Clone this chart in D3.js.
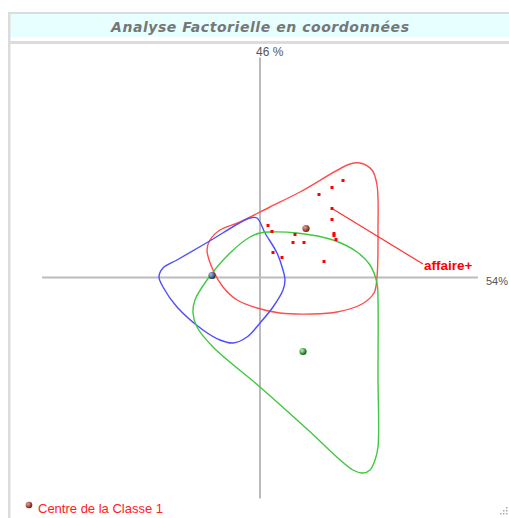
<!DOCTYPE html>
<html>
<head>
<meta charset="utf-8">
<script src="https://cdn.jsdelivr.net/npm/d3@7"></script>
<style>
  body { margin: 0; background: #fff; }
  svg { display: block; }
</style>
</head>
<body>
<div id="chart"></div>
<script>
// axis inertia labels
var axisLabelX = "54%";
var axisLabelY = "46 %";
var title = "Analyse Factorielle en coordonnées";
var legendLabel = "Centre de la Classe 1";
var pointLabel = "affaire+";

// individuals of class 1 (factor coordinates)
var pointsX = [0.83, 0.72, 0.59, 0.72, 0.72, 0.74, 0.74, 0.76, 0.08, 0.12, 0.35, 0.33, 0.44, 0.13, 0.22, 0.64];
var pointsY = [0.97, 0.90, 0.83, 0.69, 0.58, 0.44, 0.42, 0.38, 0.52, 0.46, 0.43, 0.35, 0.35, 0.25, 0.20, 0.16];

// labelled point (index into points) and where its label sits
var labelIndex = 3;
var labelPos = [1.63, 0.135];

// class centres
var centreNames = ["Classe 1", "Classe 2", "Classe 3"];
var centreX = [0.46, -0.48, 0.43];
var centreY = [0.49, 0.02, -0.74];

// class envelopes
var envRedX = [1.00, 1.12, 1.17, 1.18, 1.17, 1.14, 1.02, 0.77, 0.53, 0.20, -0.03, -0.23, -0.37, -0.47, -0.53, -0.50, -0.40, -0.20, 0.10, 0.40, 0.90];
var envRedY = [1.145, 1.075, 0.925, 0.475, 0.005, -0.155, -0.265, -0.345, -0.365, -0.355, -0.305, -0.225, -0.095, 0.075, 0.275, 0.375, 0.475, 0.555, 0.705, 0.855, 1.135];

var envBlueX = [-0.03, 0.05, 0.17, 0.23, 0.25, 0.23, 0.13, 0.00, -0.13, -0.27, -0.40, -0.57, -0.83, -0.97, -1.01, -0.97, -0.83, -0.52, -0.10];
var envBlueY = [0.595, 0.445, 0.245, 0.075, -0.025, -0.125, -0.295, -0.455, -0.595, -0.655, -0.625, -0.525, -0.295, -0.095, 0.005, 0.095, 0.175, 0.355, 0.595];

var envGreenX = [0.00, 0.10, 0.37, 0.73, 0.97, 1.10, 1.17, 1.18, 1.18, 1.18, 1.15, 1.10, 1.03, 0.93, 0.47, 0.00, -0.47, -0.63, -0.67, -0.65, -0.53, -0.30, -0.10];
var envGreenY = [0.445, 0.455, 0.445, 0.375, 0.255, 0.125, -0.055, -0.225, -0.975, -1.695, -1.825, -1.925, -1.955, -1.925, -1.515, -1.095, -0.695, -0.495, -0.355, -0.225, -0.025, 0.245, 0.405];

var envelopes = [
    { color: "#ff4d4d", xs: envRedX, ys: envRedY },
    { color: "#4d4dff", xs: envBlueX, ys: envBlueY },
    { color: "#40c840", xs: envGreenX, ys: envGreenY }
];
var centreColors = [["#f0a090", "#702010"], ["#a8c0f0", "#1c2c4c"], ["#b0ffb0", "#0c600c"]];

var width = 509, height = 518;

var svg = d3.select("#chart").append("svg")
    .attr("width", width)
    .attr("height", height);

// frame
svg.append("rect").attr("x", 8).attr("y", 12).attr("width", width - 8).attr("height", 2).attr("fill", "#dcdcdc");
svg.append("rect").attr("x", 10).attr("y", 14).attr("width", width - 10).attr("height", 23).attr("fill", "#e8ffff");
svg.append("rect").attr("x", 8).attr("y", 41).attr("width", width - 8).attr("height", 3).attr("fill", "#dcdcdc");
svg.append("rect").attr("x", 8).attr("y", 12).attr("width", 2.5).attr("height", height - 12).attr("fill", "#dcdcdc");

svg.append("text")
    .attr("x", 260)
    .attr("y", 32)
    .attr("text-anchor", "middle")
    .attr("font-family", "DejaVu Sans")
    .attr("font-weight", "bold")
    .attr("font-style", "italic")
    .attr("font-size", "14px")
    .attr("fill", "#777")
    .attr("textLength", 298)
    .text(title);

// scales
var x = d3.scaleLinear().domain([-2.18, 2.18]).range([42, 478]);
var y = d3.scaleLinear().domain([-2.195, 2.205]).range([497, 57]);

// axes through origin
var g = svg.append("g");
g.append("line")
    .attr("x1", x(-2.18)).attr("x2", x(2.18))
    .attr("y1", y(0)).attr("y2", y(0))
    .attr("stroke", "#bbb").attr("stroke-width", 2);
g.append("line")
    .attr("x1", x(0)).attr("x2", x(0))
    .attr("y1", y(2.2)).attr("y2", y(-2.21))
    .attr("stroke", "#bbb").attr("stroke-width", 2);

g.append("text")
    .attr("x", x(0) - 4).attr("y", y(2.2) - 2)
    .attr("font-family", "Liberation Sans, Arial, sans-serif")
    .attr("font-size", "12px").attr("fill", "#555")
    .text(axisLabelY);
g.append("text")
    .attr("x", x(2.18) + 8).attr("y", y(0) + 7)
    .attr("font-family", "Liberation Sans, Arial, sans-serif")
    .attr("font-size", "11px").attr("fill", "#555")
    .text(axisLabelX);

// envelopes
var line = d3.line()
    .x(function(d){ return x(d[0]); })
    .y(function(d){ return y(d[1]); })
    .curve(d3.curveCatmullRomClosed.alpha(0.5));

envelopes.forEach(function(e){
    var pts = e.xs.map(function(v, i){ return [v, e.ys[i]]; });
    g.append("path")
        .attr("d", line(pts))
        .attr("fill", "none")
        .attr("stroke", e.color)
        .attr("stroke-width", 1.4);
});

// label leader line
g.append("line")
    .attr("x1", x(pointsX[labelIndex])).attr("y1", y(pointsY[labelIndex]))
    .attr("x2", x(labelPos[0])).attr("y2", y(labelPos[1]))
    .attr("stroke", "#ff3030").attr("stroke-width", 1.2);
g.append("text")
    .attr("x", x(labelPos[0]) + 1).attr("y", y(labelPos[1]) + 6)
    .attr("font-family", "Liberation Sans, Arial, sans-serif")
    .attr("font-weight", "bold")
    .attr("font-size", "13.5px").attr("fill", "#ff0000")
    .text(pointLabel);

// individuals
g.selectAll(".pt")
    .data(pointsX.map(function(v, i){ return [v, pointsY[i]]; }))
    .enter().append("rect")
    .attr("class", "pt")
    .attr("x", function(d){ return x(d[0]) - 1.5; })
    .attr("y", function(d){ return y(d[1]) - 1.5; })
    .attr("width", 3).attr("height", 3)
    .attr("fill", "#ff0000");

// shaded balls
var defs = svg.append("defs");
centreColors.forEach(function(c, i){
    var grad = defs.append("radialGradient")
        .attr("id", "ball" + i)
        .attr("cx", "35%").attr("cy", "35%").attr("r", "65%");
    grad.append("stop").attr("offset", "0%").attr("stop-color", c[0]);
    grad.append("stop").attr("offset", "100%").attr("stop-color", c[1]);
});

g.selectAll(".centre")
    .data(centreNames)
    .enter().append("circle")
    .attr("class", "centre")
    .attr("cx", function(d, i){ return x(centreX[i]); })
    .attr("cy", function(d, i){ return y(centreY[i]); })
    .attr("r", 3.6)
    .attr("fill", function(d, i){ return "url(#ball" + i + ")"; });

// legend
svg.append("circle")
    .attr("cx", 29).attr("cy", 505).attr("r", 3.3)
    .attr("fill", "url(#ball0)");
svg.append("text")
    .attr("x", 38).attr("y", 513)
    .attr("font-family", "Liberation Sans, Arial, sans-serif")
    .attr("font-size", "13px").attr("fill", "#ff2020")
    .text(legendLabel);

// resize grip
var grip = [[506, 507], [503, 510], [506, 510], [500, 513], [503, 513], [506, 513]];
svg.selectAll(".grip")
    .data(grip)
    .enter().append("rect")
    .attr("class", "grip")
    .attr("x", function(d){ return d[0]; })
    .attr("y", function(d){ return d[1]; })
    .attr("width", 1.5).attr("height", 1.5)
    .attr("fill", "#aaa");
</script>
</body>
</html>
